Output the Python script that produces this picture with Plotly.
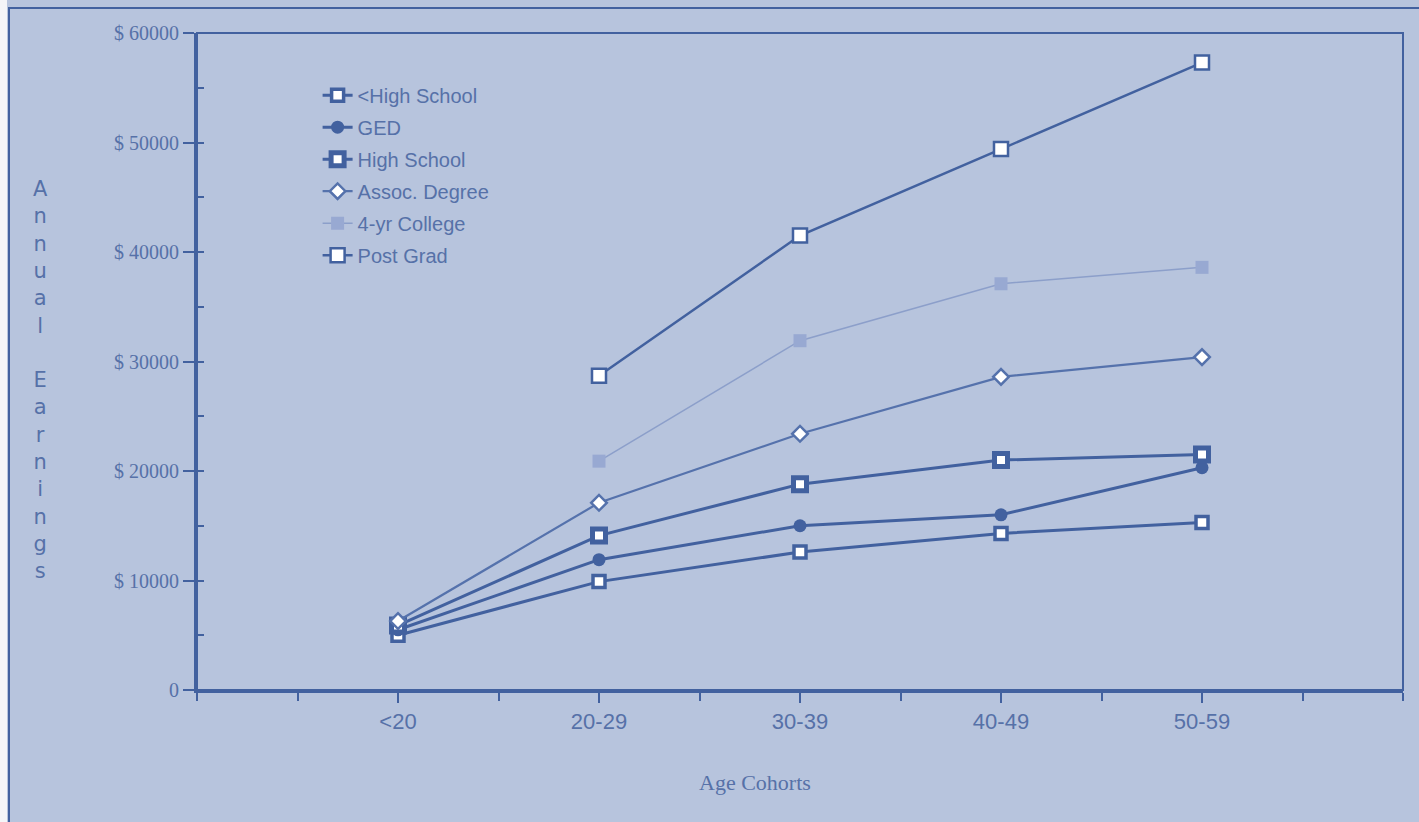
import plotly.graph_objects as go

# Age cohorts along the x axis (positions 0..4 on a numeric axis)
cohorts = ["<20", "20-29", "30-39", "40-49", "50-59"]

# Annual earnings by education level (None = no value for that cohort)
less_high_school = [5000, 9900, 12600, 14300, 15300]
ged = [5500, 11900, 15000, 16000, 20300]
high_school = [5900, 14100, 18800, 21000, 21500]
assoc_degree = [6300, 17100, 23400, 28600, 30400]
four_yr_college = [None, 20900, 31900, 37100, 38600]
post_grad = [None, 28700, 41500, 49400, 57300]

y_tick_values = [0, 10000, 20000, 30000, 40000, 50000, 60000]
y_tick_labels = ["0", "$ 10000", "$ 20000", "$ 30000", "$ 40000", "$ 50000", "$ 60000"]

BG = "#b7c4dd"
INK = "#42619f"
TEXT = "#5671a8"
LIGHT_LINE = "#8c9fca"

x_pos = list(range(len(cohorts)))

series = [
    dict(name="<High School", y=less_high_school, line=dict(color=INK, width=3),
         marker=dict(symbol="square", size=12, color="white", line=dict(color=INK, width=3.5))),
    dict(name="GED", y=ged, line=dict(color=INK, width=3),
         marker=dict(symbol="circle", size=13, color=INK, line=dict(color=INK, width=0))),
    dict(name="High School", y=high_school, line=dict(color=INK, width=3),
         marker=dict(symbol="square", size=13, color="white", line=dict(color=INK, width=5))),
    dict(name="Assoc. Degree", y=assoc_degree, line=dict(color="#5572ac", width=2.2),
         marker=dict(symbol="diamond", size=12, color="white", line=dict(color="#5572ac", width=2.5))),
    dict(name="4-yr College", y=four_yr_college, line=dict(color=LIGHT_LINE, width=1.5),
         marker=dict(symbol="square", size=13, color="#98a9d2", line=dict(color="#98a9d2", width=0))),
    dict(name="Post Grad", y=post_grad, line=dict(color=INK, width=2.5),
         marker=dict(symbol="square", size=14, color="white", line=dict(color=INK, width=2.5))),
]

fig = go.Figure()
for i, s in enumerate(series):
    fig.add_trace(go.Scatter(
        x=x_pos, y=s["y"], name=s["name"], mode="lines+markers",
        line=s["line"], marker=s["marker"], legendgroup=f"g{i}",
    ))

fig.update_layout(
    width=1419, height=822,
    margin=dict(l=197, r=16, t=33, b=132),
    paper_bgcolor=BG, plot_bgcolor=BG,
    showlegend=True,
    legend=dict(
        x=0.1, y=0.935, xanchor="left", yanchor="top",
        bgcolor="rgba(0,0,0,0)", tracegroupgap=3, itemwidth=30,
        font=dict(family="Liberation Sans, Arial, sans-serif", size=20, color=TEXT),
    ),
    xaxis=dict(
        range=[-1, 5], tickmode="array", tickvals=x_pos, ticktext=cohorts,
        showgrid=False, zeroline=False,
        showline=True, linecolor=INK, linewidth=3,
        ticks="outside", ticklen=10, tickwidth=1.5, tickcolor=INK,
        minor=dict(tickmode="linear", tick0=-1, dtick=0.5, ticks="outside",
                   ticklen=8, tickwidth=1.5, tickcolor=INK),
        tickfont=dict(family="Liberation Sans Narrow, Liberation Sans, Arial Narrow, sans-serif",
                      size=22, color=TEXT),
    ),
    yaxis=dict(
        range=[0, 60000], tickmode="array", tickvals=y_tick_values, ticktext=y_tick_labels,
        showgrid=False, zeroline=False,
        showline=True, linecolor=INK, linewidth=3,
        ticks="outside", ticklen=11, tickwidth=1.5, tickcolor=INK,
        minor=dict(tickmode="linear", tick0=0, dtick=5000, ticks="inside",
                   ticklen=7, tickwidth=1.5, tickcolor=INK),
        tickfont=dict(family="Liberation Serif, Times New Roman, serif", size=20, color=TEXT),
    ),
    shapes=[
        # plot frame (top and right edges)
        dict(type="rect", xref="paper", yref="paper", x0=0, y0=0, x1=1, y1=1,
             line=dict(color=INK, width=2)),
        # outer page frame
        dict(type="rect", xref="paper", yref="paper",
             x0=(9 - 197) / 1206, x1=1.3, y0=-0.6, y1=(690 - 8) / 657,
             line=dict(color=INK, width=2)),
        # unprinted strip at the left edge
        dict(type="rect", xref="paper", yref="paper",
             x0=-197 / 1206, x1=(7 - 197) / 1206, y0=-0.3, y1=1.1,
             fillcolor="#f4f5f8", line=dict(width=0), layer="below"),
    ],
    annotations=[
        dict(text="<br>".join(list("Annual") + [" "] + list("Earnings")),
             xref="paper", yref="paper", x=(40 - 197) / 1206, y=(690 - 380) / 657,
             xanchor="center", yanchor="middle", showarrow=False, align="center",
             font=dict(family="DejaVu Sans, sans-serif", size=21, color=TEXT)),
        dict(text="Age Cohorts", xref="paper", yref="paper",
             x=(755 - 197) / 1206, y=(690 - 782) / 657,
             xanchor="center", yanchor="middle", showarrow=False,
             font=dict(family="Liberation Serif, Times New Roman, serif", size=22, color=TEXT)),
    ],
)

fig.write_html("out.html")
